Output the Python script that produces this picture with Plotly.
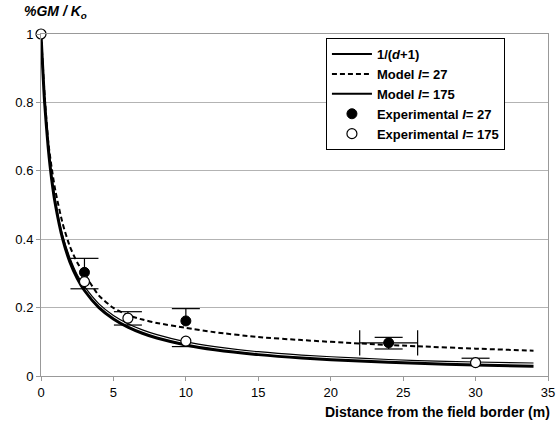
import plotly.graph_objects as go

# ---- data ----
d_curve = [0, 0.25, 0.5, 0.75, 1, 1.5, 2, 2.5, 3, 4, 5, 6, 7, 8, 10, 12, 15, 18, 22, 26, 30, 34]
inv_d1 = [1.0, 0.80, 0.667, 0.571, 0.5, 0.4, 0.333, 0.286, 0.25, 0.2, 0.167, 0.143, 0.125,
          0.111, 0.0909, 0.0769, 0.0625, 0.0526, 0.0435, 0.037, 0.0323, 0.0286]
model_27 = [1.0, 0.82, 0.685, 0.605, 0.54, 0.445, 0.378, 0.332, 0.298, 0.235, 0.199, 0.178,
            0.165, 0.155, 0.141, 0.128, 0.114, 0.105, 0.095, 0.087, 0.080, 0.074]
model_175 = [1.0, 0.81, 0.675, 0.58, 0.51, 0.41, 0.345, 0.296, 0.262, 0.211, 0.177, 0.153,
             0.135, 0.121, 0.100, 0.086, 0.071, 0.061, 0.052, 0.045, 0.041, 0.038]

exp27_x = [3, 10, 24]
exp27_y = [0.303, 0.161, 0.097]
exp27_err_plus = [0.041, 0.036, 0.016]
exp27_err_minus = [0.0, 0.0, 0.018]
exp27_xerr = [0, 0, 2]

exp175_x = [0, 3, 6, 10, 30]
exp175_y = [1.0, 0.276, 0.169, 0.102, 0.039]
exp175_err_plus = [0.0, 0.0, 0.019, 0.0, 0.013]
exp175_err_minus = [0.0, 0.021, 0.020, 0.016, 0.0]

x_ticks = [0, 5, 10, 15, 20, 25, 30, 35]
y_ticks = [0, 0.2, 0.4, 0.6, 0.8, 1]
y_tick_labels = ["0", "0.2", "0.4", "0.6", "0.8", "1"]

FONT = "Liberation Sans, Arial, sans-serif"
CLEAR = "rgba(0,0,0,0)"


def caps(xs, ys, plus, minus):
    cx, cy = [], []
    for x, y, p, m in zip(xs, ys, plus, minus):
        if p > 0:
            cx.append(x); cy.append(y + p)
        if m > 0:
            cx.append(x); cy.append(y - m)
    return cx, cy


fig = go.Figure()

fig.add_trace(go.Scatter(x=d_curve, y=inv_d1, mode="lines", name="<b>1/(<i>d</i>+1)</b>",
                         showlegend=False, legendrank=1, hoverinfo="skip",
                         line=dict(color="black", width=3, shape="spline", smoothing=0.6)))
fig.add_trace(go.Scatter(x=d_curve, y=model_27, mode="lines", name="<b>Model <i>I</i>= 27</b>",
                         legendrank=2,
                         line=dict(color="black", width=2, dash="5px,3px", shape="spline", smoothing=0.6)))
fig.add_trace(go.Scatter(x=d_curve, y=model_175, mode="lines", name="<b>Model <i>I</i>= 175</b>",
                         showlegend=False, legendrank=3,
                         line=dict(color="black", width=1.2, shape="spline", smoothing=0.6)))
# legend-only entries (line sample drawn 2px like the reference legend)
fig.add_trace(go.Scatter(x=[None], y=[None], mode="lines", name="<b>1/(<i>d</i>+1)</b>",
                         legendrank=1, line=dict(color="black", width=2)))
fig.add_trace(go.Scatter(x=[None], y=[None], mode="lines", name="<b>Model <i>I</i>= 175</b>",
                         legendrank=3, line=dict(color="black", width=2)))

# error bar stems (no native caps)
fig.add_trace(go.Scatter(x=exp27_x, y=exp27_y, mode="markers", showlegend=False, hoverinfo="skip",
                         marker=dict(size=2, color=CLEAR),
                         error_y=dict(type="data", symmetric=False, array=exp27_err_plus,
                                      arrayminus=exp27_err_minus, color="black", thickness=1.2, width=0),
                         error_x=dict(type="data", array=exp27_xerr, color="black", thickness=1.2, width=0),
                         cliponaxis=False))
fig.add_trace(go.Scatter(x=exp175_x, y=exp175_y, mode="markers", showlegend=False, hoverinfo="skip",
                         marker=dict(size=2, color=CLEAR),
                         error_y=dict(type="data", symmetric=False, array=exp175_err_plus,
                                      arrayminus=exp175_err_minus, color="black", thickness=1.2, width=0),
                         cliponaxis=False))
# error bar caps
cx27, cy27 = caps(exp27_x, exp27_y, exp27_err_plus, exp27_err_minus)
cx175, cy175 = caps(exp175_x, exp175_y, exp175_err_plus, exp175_err_minus)
fig.add_trace(go.Scatter(x=cx27 + cx175, y=cy27 + cy175, mode="markers", showlegend=False,
                         hoverinfo="skip", cliponaxis=False,
                         marker=dict(symbol="line-ew-open", size=20, color="black",
                                     line=dict(color="black", width=1.2))))
hx, hy = [], []
for x, y, e in zip(exp27_x, exp27_y, exp27_xerr):
    if e > 0:
        hx += [x - e, x + e]; hy += [y, y]
fig.add_trace(go.Scatter(x=hx, y=hy, mode="markers", showlegend=False, hoverinfo="skip",
                         marker=dict(symbol="line-ns-open", size=18, color="black",
                                     line=dict(color="black", width=1.2))))

fig.add_trace(go.Scatter(x=exp27_x, y=exp27_y, mode="markers", name="<b>Experimental <i>I</i>= 27</b>",
                         legendrank=4,
                         marker=dict(color="black", size=10, line=dict(color="black", width=1)),
                         cliponaxis=False))
fig.add_trace(go.Scatter(x=exp175_x, y=exp175_y, mode="markers", name="<b>Experimental <i>I</i>= 175</b>",
                         legendrank=5,
                         marker=dict(color="white", size=10, line=dict(color="black", width=1.2)),
                         cliponaxis=False))

fig.update_layout(
    width=557, height=422,
    margin=dict(l=41, r=9, t=34, b=46),
    paper_bgcolor="white", plot_bgcolor="white",
    font=dict(family=FONT, color="black", size=13),
    showlegend=True,
    legend=dict(x=0.562, y=0.988, xanchor="left", yanchor="top",
                bordercolor="black", borderwidth=1, bgcolor="white",
                font=dict(family=FONT, size=13, color="black"),
                tracegroupgap=0, itemwidth=40, traceorder="normal"),
    xaxis=dict(range=[0, 35], tickvals=x_ticks, showgrid=False, zeroline=False,
               showline=True, linecolor="#999999", linewidth=1, mirror=True,
               ticks="outside", ticklen=4, tickcolor="#999999", automargin=False,
               tickfont=dict(family=FONT, size=13, color="black")),
    yaxis=dict(range=[0, 1], tickvals=y_ticks, ticktext=y_tick_labels,
               showgrid=True, gridcolor="#b3b3b3", gridwidth=1, zeroline=False,
               showline=True, linecolor="#999999", linewidth=1, mirror=True,
               ticks="outside", ticklen=4, tickcolor="#999999", automargin=False,
               tickfont=dict(family=FONT, size=13, color="black")),
    annotations=[
        dict(text="<b><i>%GM / K<sub>o</sub></i></b>", xref="paper", yref="paper",
             x=-0.0375, y=1.064, xanchor="left", yanchor="middle", showarrow=False,
             font=dict(family=FONT, size=14, color="black")),
        dict(text="<b>Distance from the field border (m)</b>", xref="paper", yref="paper",
             x=1.008, y=-0.105, xanchor="right", yanchor="middle", showarrow=False,
             font=dict(family=FONT, size=14, color="black")),
    ],
)

fig.write_html("out.html", config={"displayModeBar": False},
               post_script="document.body.style.margin='0px';")
